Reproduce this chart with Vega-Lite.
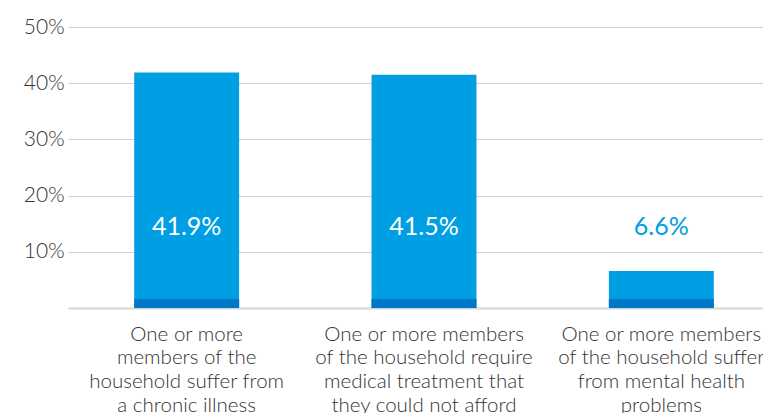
{
  "$schema": "https://vega.github.io/schema/vega-lite/v6.json",
  "width": 712,
  "height": 281,
  "autosize": {"type": "none"},
  "padding": {"left": 68, "top": 27, "right": 0, "bottom": 105},
  "background": "white",
  "config": {"view": {"stroke": null}, "font": "Lato"},
  "data": {"values": [
    {"category": "One or more|members of the|household suffer from|a chronic illness", "value": 41.9, "base": 1.6, "label": "41.9%"},
    {"category": "One or more members|of the household require|medical treatment that|they could not afford", "value": 41.5, "base": 1.6, "label": "41.5%"},
    {"category": "One or more members|of the household suffer|from mental health|problems", "value": 6.6, "base": 1.6, "label": "6.6%"}
  ]},
  "encoding": {
    "x": {
      "field": "category", "type": "nominal", "sort": null,
      "scale": {"paddingInner": 0.558, "paddingOuter": 0.279},
      "axis": {
        "title": null, "labelAngle": 0, "ticks": false,
        "domainColor": "#d6d6d6", "domainWidth": 2,
        "labelExpr": "split(datum.label, '|')",
        "labelFontSize": 20.5, "labelColor": "#333333", "labelFontWeight": 300,
        "labelLineHeight": 23.7, "labelPadding": 16, "labelBaseline": "top",
        "labelLimit": 300
      }
    }
  },
  "layer": [
    {
      "mark": {"type": "bar", "color": "#009fe3"},
      "encoding": {
        "y": {
          "field": "value", "type": "quantitative",
          "scale": {"domain": [0, 50]},
          "axis": {
            "title": null, "values": [10, 20, 30, 40, 50],
            "labelExpr": "datum.value + '%'",
            "domain": false, "ticks": false,
            "gridColor": "#cfcfcf", "gridWidth": 1.2,
            "labelFontSize": 21, "labelColor": "#333333", "labelFontWeight": 300,
            "labelPadding": 4
          }
        }
      }
    },
    {
      "mark": {"type": "bar", "color": "#0078c8"},
      "encoding": {"y": {"field": "base", "type": "quantitative"}}
    },
    {
      "mark": {"type": "text", "fontSize": 25, "fontWeight": 400, "baseline": "middle"},
      "encoding": {
        "y": {"datum": 14.5, "type": "quantitative"},
        "text": {"field": "label"},
        "color": {
          "condition": {"test": "datum.value < 20", "value": "#009fe3"},
          "value": "white"
        }
      }
    }
  ]
}
